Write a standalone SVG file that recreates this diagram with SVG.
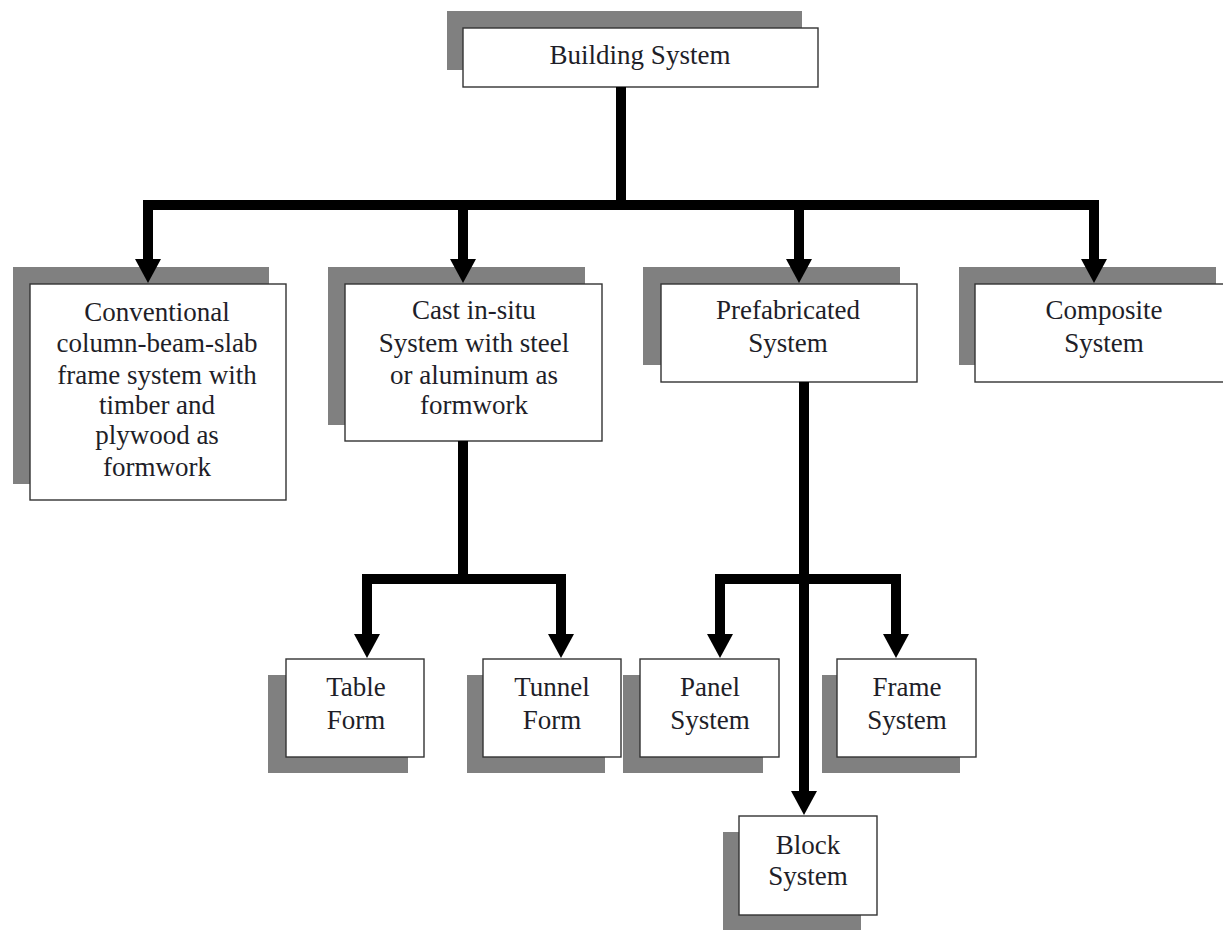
<svg xmlns="http://www.w3.org/2000/svg" width="1223" height="930" viewBox="0 0 1223 930">
<style>
.sh{fill:#808080;}
.bx{fill:#ffffff;stroke:#333333;stroke-width:1.4;}
.t{font-family:"Liberation Serif","Times New Roman",serif;font-size:27px;fill:#1e1e28;text-anchor:middle;}
.c{fill:none;stroke:#000000;stroke-width:10;stroke-linejoin:miter;stroke-linecap:butt;marker-end:url(#ah);}
</style>
<defs>
<marker id="ah" markerUnits="userSpaceOnUse" viewBox="0 0 24 26" markerWidth="24" markerHeight="26" refX="0" refY="13" orient="auto">
<path d="M0,0 L24,13 L0,26 Z" fill="#000000"/>
</marker>
</defs>
<rect width="1223" height="930" fill="#ffffff"/>

<g id="building-system">
<rect class="sh" x="447" y="11" width="355" height="59"/>
<rect class="bx" x="463" y="28" width="355" height="59"/>
<text class="t" x="640" y="64">Building System</text>
</g>

<g id="conventional">
<rect class="sh" x="13" y="267" width="256" height="217"/>
<rect class="bx" x="30" y="284" width="256" height="216"/>
<text class="t" x="157" y="321">Conventional</text>
<text class="t" x="157" y="352">column-beam-slab</text>
<text class="t" x="157" y="384">frame system with</text>
<text class="t" x="157" y="414">timber and</text>
<text class="t" x="157" y="444">plywood as</text>
<text class="t" x="157" y="476">formwork</text>
</g>

<g id="cast-in-situ">
<rect class="sh" x="328" y="267" width="257" height="158"/>
<rect class="bx" x="345" y="284" width="257" height="157"/>
<text class="t" x="474" y="319">Cast in-situ</text>
<text class="t" x="474" y="352">System with steel</text>
<text class="t" x="474" y="384">or aluminum as</text>
<text class="t" x="474" y="414">formwork</text>
</g>

<g id="prefabricated">
<rect class="sh" x="643" y="267" width="257" height="98"/>
<rect class="bx" x="661" y="284" width="256" height="98"/>
<text class="t" x="788" y="319">Prefabricated</text>
<text class="t" x="788" y="352">System</text>
</g>

<g id="composite">
<rect class="sh" x="959" y="267" width="257" height="98"/>
<rect class="bx" x="975" y="284" width="257" height="98"/>
<text class="t" x="1104" y="319">Composite</text>
<text class="t" x="1104" y="352">System</text>
</g>

<g id="table-form">
<rect class="sh" x="268" y="675" width="140" height="98"/>
<rect class="bx" x="286" y="659" width="138" height="98"/>
<text class="t" x="356" y="696">Table</text>
<text class="t" x="356" y="729">Form</text>
</g>

<g id="tunnel-form">
<rect class="sh" x="467" y="675" width="138" height="98"/>
<rect class="bx" x="483" y="659" width="138" height="98"/>
<text class="t" x="552" y="696">Tunnel</text>
<text class="t" x="552" y="729">Form</text>
</g>

<g id="panel-system">
<rect class="sh" x="623" y="675" width="140" height="98"/>
<rect class="bx" x="640" y="659" width="139" height="98"/>
<text class="t" x="710" y="696">Panel</text>
<text class="t" x="710" y="729">System</text>
</g>

<g id="frame-system">
<rect class="sh" x="822" y="675" width="138" height="98"/>
<rect class="bx" x="837" y="659" width="139" height="98"/>
<text class="t" x="907" y="696">Frame</text>
<text class="t" x="907" y="729">System</text>
</g>

<g id="block-system">
<rect class="sh" x="723" y="832" width="138" height="99"/>
<rect class="bx" x="739" y="816" width="138" height="99"/>
<text class="t" x="808" y="854">Block</text>
<text class="t" x="808" y="885">System</text>
</g>

<g id="connectors">
<path class="c" d="M621,87 V205 H148 V259"/>
<path class="c" d="M621,205 H1094 V259"/>
<path class="c" d="M463,205 V259"/>
<path class="c" d="M799,205 V259"/>
<path class="c" d="M463,441 V579 H367 V634"/>
<path class="c" d="M463,579 H561 V634"/>
<path class="c" d="M804,382 V791"/>
<path class="c" d="M804,579 H720 V634"/>
<path class="c" d="M804,579 H896 V634"/>
</g>
</svg>
